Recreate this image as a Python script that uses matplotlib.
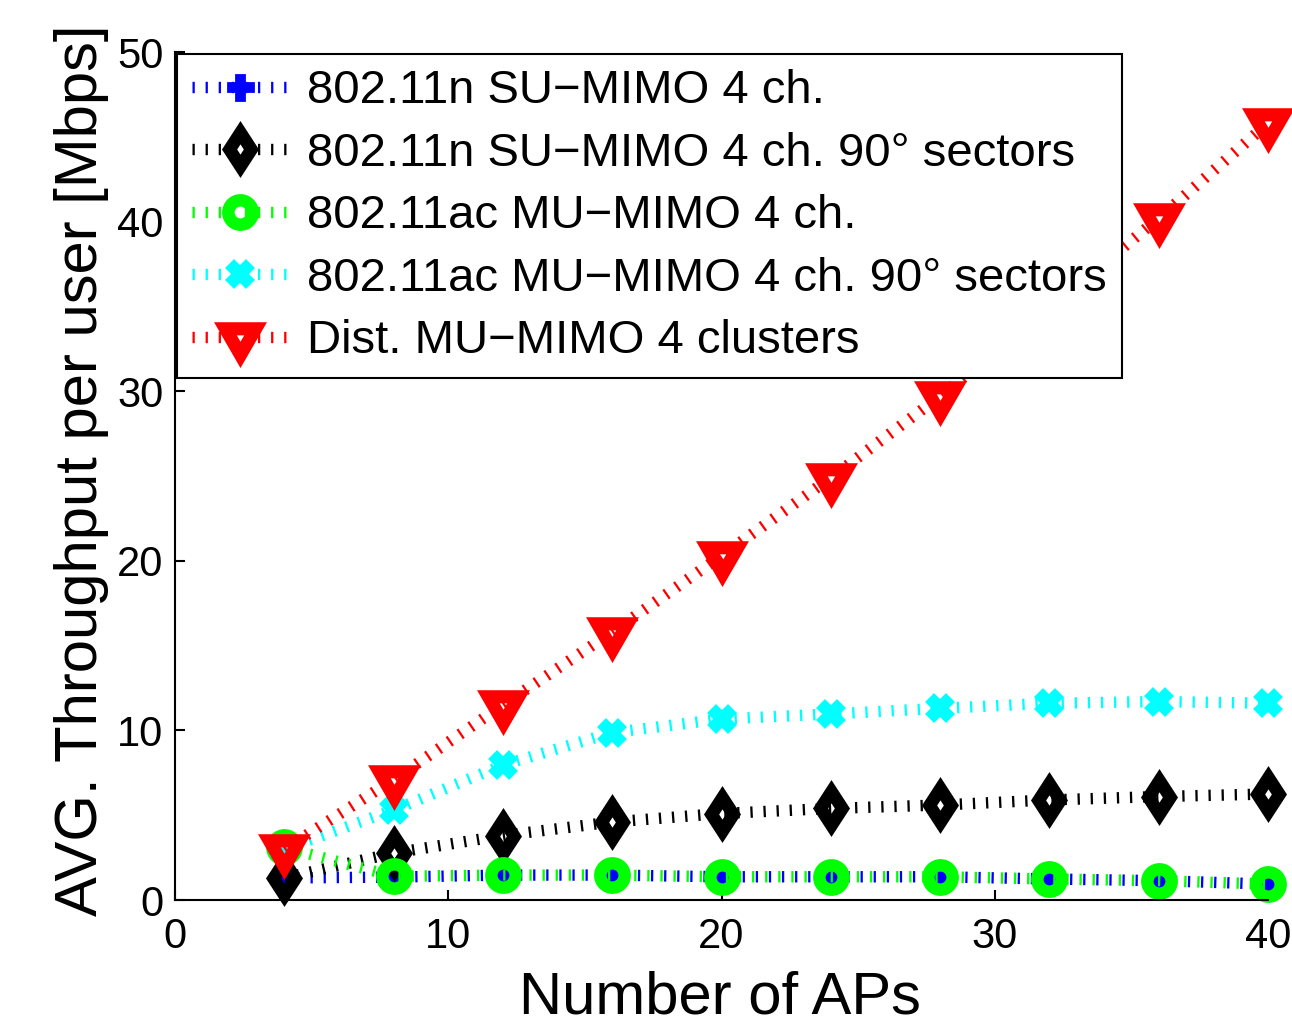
import matplotlib
matplotlib.use("Agg")
import matplotlib.pyplot as plt
from matplotlib import font_manager
from matplotlib.path import Path

# dados
num_aps = [4, 8, 12, 16, 20, 24, 28, 32, 36, 40]
su_mimo = [1.3, 1.35, 1.47, 1.47, 1.37, 1.37, 1.37, 1.24, 1.14, 0.94]
su_mimo_set = [1.3, 2.77, 3.8, 4.6, 5.1, 5.4, 5.6, 5.9, 6.1, 6.25]
mu_mimo = [3.1, 1.4, 1.47, 1.47, 1.37, 1.37, 1.37, 1.24, 1.14, 0.94]
mu_mimo_set = [3.0, 5.3, 7.96, 9.87, 10.67, 10.97, 11.3, 11.6, 11.7, 11.6]
dist_mu_mimo = [3.0, 7.1, 11.5, 15.8, 20.3, 24.9, 29.7, 34.9, 40.2, 45.8]

rotulos = ['802.11n SU\u2212MIMO 4 ch.',
           '802.11n SU\u2212MIMO 4 ch. 90\u00b0 sectors',
           '802.11ac MU\u2212MIMO 4 ch.',
           '802.11ac MU\u2212MIMO 4 ch. 90\u00b0 sectors',
           'Dist. MU\u2212MIMO 4 clusters']

fonte = 'Liberation Sans'
try:
    font_manager.findfont('Liberation Sans Narrow', fallback_to_default=False)
    fonte_estreita = 'Liberation Sans Narrow'
    tam_ylabel = 52
except Exception:
    fonte_estreita = 'Liberation Sans'
    tam_ylabel = 43

plt.rcParams['font.family'] = fonte


def marcador_vazado(pontos, furo):
    # contorno externo + furo pequeno no sentido contrario (fica transparente)
    interno = [(x * furo, y * furo) for x, y in reversed(pontos)]
    verts = pontos + [pontos[0]] + interno + [interno[0]]
    codes = ([Path.MOVETO] + [Path.LINETO] * (len(pontos) - 1) + [Path.CLOSEPOLY]) * 2
    return Path(verts, codes)


triangulo = marcador_vazado([(0, -1), (0.866, 0.5), (-0.866, 0.5)], 0.14)
losango = marcador_vazado([(0, -1), (0.65, 0), (0, 1), (-0.65, 0)], 0.18)

fig = plt.figure(figsize=(12.92, 10.29), dpi=100)
ax = fig.add_axes([175 / 1292, 1 - 900 / 1029, 1093 / 1292, 848 / 1029])

estilo = dict(linestyle=(0, (0.2, 0.95)), linewidth=8.2, dash_capstyle='butt', clip_on=False)

ax.plot(num_aps, su_mimo, color='#0000ff', marker='P', markersize=18,
        markerfacecolor='#0000ff', markeredgewidth=2, label=rotulos[0], **estilo)
ax.plot(num_aps, su_mimo_set, color='black', marker=losango, markersize=41,
        markerfacecolor='black', markeredgewidth=0, label=rotulos[1], **estilo)
ax.plot(num_aps, mu_mimo, color='#00ff00', marker='o', markersize=17.5,
        markerfacecolor='none', markeredgewidth=9, label=rotulos[2], **estilo)
ax.plot(num_aps, mu_mimo_set, color='#00ffff', marker='X', markersize=17,
        markerfacecolor='#00ffff', markeredgewidth=3, label=rotulos[3], **estilo)
ax.plot(num_aps, dist_mu_mimo, color='#ff0000', marker=triangulo, markersize=44,
        markerfacecolor='#ff0000', markeredgewidth=0, label=rotulos[4], **estilo)

ax.set_xlim(0, 40)
ax.set_ylim(0, 50)
ax.set_xticks([0, 10, 20, 30, 40])
ax.set_yticks([0, 10, 20, 30, 40, 50])
ax.spines['top'].set_visible(False)
ax.spines['right'].set_visible(False)
for lado in ['left', 'bottom']:
    ax.spines[lado].set_linewidth(1.5)
ax.tick_params(direction='in', length=7, width=1.5, labelsize=30)
ax.tick_params(axis='x', pad=12)
ax.tick_params(axis='y', pad=8.5)

ax.set_xlabel('Number of APs', fontsize=43)
ax.xaxis.label.set_verticalalignment('baseline')
ax.xaxis.set_label_coords(0.4986, -0.1333)

ax.set_ylabel('AVG. Throughput per user [Mbps]', fontsize=tam_ylabel, family=fonte_estreita)
ax.yaxis.label.set_verticalalignment('baseline')
ax.yaxis.set_label_coords(-0.0714, 0.507)

leg = ax.legend(loc='upper left', bbox_to_anchor=(0, 1), borderaxespad=0.05,
                fontsize=34, handlelength=2.0, handletextpad=0.42, borderpad=0.32,
                labelspacing=0.39, numpoints=1, fancybox=False, framealpha=1,
                edgecolor='black')
leg.get_frame().set_linewidth(1.5)

fig.savefig('out.png', dpi=100)
